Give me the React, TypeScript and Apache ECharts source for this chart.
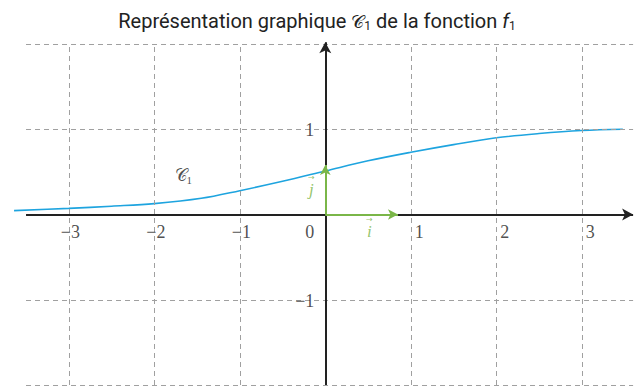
import React, { useEffect, useRef } from "react";
import * as echarts from "echarts";

// ---- data ----
const curveX = [-3.64, -3, -2.5, -2, -1.45, -1, -0.5, 0, 0.5, 1, 1.5, 2, 2.5, 3, 3.48];
const curveY = [0.046, 0.072, 0.098, 0.128, 0.19, 0.28, 0.39, 0.51, 0.63, 0.73, 0.82, 0.9, 0.95, 0.985, 1.0];
const xTicks = [-3, -2, -1, 0, 1, 2, 3];
const yTicks = [-1, 1];
const xGrid = [-3, -2, -1, 1, 2, 3];
const yGrid = [-2, -1, 1, 2];
const xRange = [-3.65, 3.6];
const yRange = [-2, 2.03];
const xAxisSpan = [-3.5, 3.6];
const yAxisSpan = [-2, 2.02];
const vecI = [0.85, 0];
const vecJ = [0, 0.58];
const curveLabelPos = [-1.66, 0.46];

const SERIF = "'Liberation Serif', 'DejaVu Serif', serif";
const INK = "#222";
const GREEN = "#7ab648";
const BLUE = "#1ea4df";

const fmt = (v: number) => (v < 0 ? "\u2212" + Math.abs(v) : String(v));

export default function App() {
  const ref = useRef<HTMLDivElement>(null);
  useEffect(() => {
    document.body.style.margin = "0";
    const chart = echarts.init(ref.current!, null, { renderer: "svg" });
    const vecLabelRich = {
      a: { fontFamily: "'DejaVu Sans', sans-serif", fontSize: 8, color: GREEN, lineHeight: 8, align: "center" },
      l: { fontFamily: SERIF, fontStyle: "italic", fontSize: 17, color: GREEN, lineHeight: 17, align: "center" },
    };
    const option: any = {
      animation: false,
      title: {
        text: "{t|Représentation graphique }{c|𝒞}{s|1}{t| de la fonction }{f|f}{s|1}",
        left: "center",
        top: 5,
        textStyle: {
          rich: {
            t: { fontFamily: "Roboto, 'Noto Sans', sans-serif", fontWeight: "normal", fontSize: 20, color: INK },
            c: { fontFamily: "'DejaVu Serif', serif", fontWeight: "normal", fontSize: 18, color: INK },
            f: { fontFamily: "Roboto, sans-serif", fontWeight: "normal", fontStyle: "italic", fontSize: 20, color: INK },
            s: { fontFamily: "Roboto, sans-serif", fontWeight: "normal", fontSize: 12, color: INK, padding: [10, 0, 0, 0] },
          },
        },
      },
      grid: { left: 13.2, right: 0.9, top: 41.5, bottom: 1 },
      xAxis: {
        type: "value",
        min: xRange[0],
        max: xRange[1],
        axisLine: { show: false },
        axisTick: { show: false },
        axisLabel: { show: false },
        splitLine: { show: false },
      },
      yAxis: {
        type: "value",
        min: yRange[0],
        max: yRange[1],
        axisLine: { show: false },
        axisTick: { show: false },
        axisLabel: { show: false },
        splitLine: { show: false },
      },
      series: [
        {
          type: "line",
          data: [],
          silent: true,
          clip: false,
          markLine: {
            silent: true,
            symbol: "none",
            label: { show: false },
            lineStyle: { color: "#a0a0a0", type: [5, 4], width: 1 },
            data: [
              ...xGrid.map((x) => [{ coord: [x, yRange[0]] }, { coord: [x, 2] }]),
              ...yGrid.map((y) => [{ coord: [xAxisSpan[0], y] }, { coord: [xRange[1], y] }]),
            ],
          },
        },
        {
          type: "line",
          data: curveX.map((x, i) => [x, curveY[i]]),
          smooth: 0.35,
          showSymbol: false,
          silent: true,
          clip: false,
          lineStyle: { color: BLUE, width: 1.6 },
          z: 3,
        },
        {
          type: "line",
          data: [],
          silent: true,
          clip: false,
          z: 4,
          markLine: {
            silent: true,
            symbol: ["none", "arrow"],
            symbolSize: [9, 11],
            label: { show: false },
            lineStyle: { color: INK, type: "solid", width: 2 },
            data: [
              [{ coord: [xAxisSpan[0], 0] }, { coord: [xAxisSpan[1], 0] }],
              [{ coord: [0, yAxisSpan[0]] }, { coord: [0, yAxisSpan[1]] }],
            ],
          },
        },
        {
          type: "line",
          data: [],
          silent: true,
          clip: false,
          z: 5,
          markLine: {
            silent: true,
            symbol: ["none", "arrow"],
            symbolSize: [8, 10],
            label: { show: false },
            lineStyle: { color: GREEN, type: "solid", width: 2 },
            data: [
              [{ coord: [0, 0] }, { coord: vecI }],
              [{ coord: [0, 0] }, { coord: vecJ }],
            ],
          },
        },
        {
          type: "scatter",
          symbolSize: 0,
          silent: true,
          clip: false,
          z: 6,
          data: xTicks.map((v) => ({
            value: [v, 0],
            label: {
              align: v === 0 ? "right" : "left",
              offset: [v === 0 ? -11 : v < 0 ? -8 : 4, 17],
            },
          })),
          label: {
            show: true,
            position: "inside",
            verticalAlign: "middle",
            formatter: (p: any) => fmt(p.value[0]),
            fontFamily: SERIF,
            fontSize: 18,
            color: INK,
          },
        },
        {
          type: "scatter",
          symbolSize: 0,
          silent: true,
          clip: false,
          z: 6,
          data: yTicks.map((v) => [0, v]),
          label: {
            show: true,
            position: "inside",
            align: "right",
            verticalAlign: "middle",
            offset: [-11, 1],
            formatter: (p: any) => fmt(p.value[1]),
            fontFamily: SERIF,
            fontSize: 18,
            color: INK,
          },
        },
        {
          type: "scatter",
          symbolSize: 0,
          silent: true,
          clip: false,
          z: 6,
          data: [
            { value: [vecI[0] / 2 + 0.02, 0], name: "i", label: { offset: [6, 13] } },
            { value: [0, vecJ[1] / 2], name: "j", label: { offset: [-14, -4] } },
          ],
          label: {
            show: true,
            position: "inside",
            formatter: (p: any) => "{a|\u2192}\n{l|" + p.name + "}",
            rich: vecLabelRich,
          },
        },
        {
          type: "scatter",
          symbolSize: 0,
          silent: true,
          clip: false,
          z: 6,
          data: [{ value: curveLabelPos, name: "𝒞" }],
          label: {
            show: true,
            position: "inside",
            formatter: "{c|𝒞}{s|1}",
            rich: {
              c: { fontFamily: "'DejaVu Serif', serif", fontSize: 17, color: INK },
              s: { fontFamily: SERIF, fontSize: 11, color: INK, padding: [10, 0, 0, 0] },
            },
          },
        },
      ],
    };
    chart.setOption(option);
    return () => chart.dispose();
  }, []);
  return (
    <div
      ref={ref}
      style={{ position: "fixed", left: 0, top: 0, width: 634, height: 386, background: "#fff" }}
    />
  );
}
